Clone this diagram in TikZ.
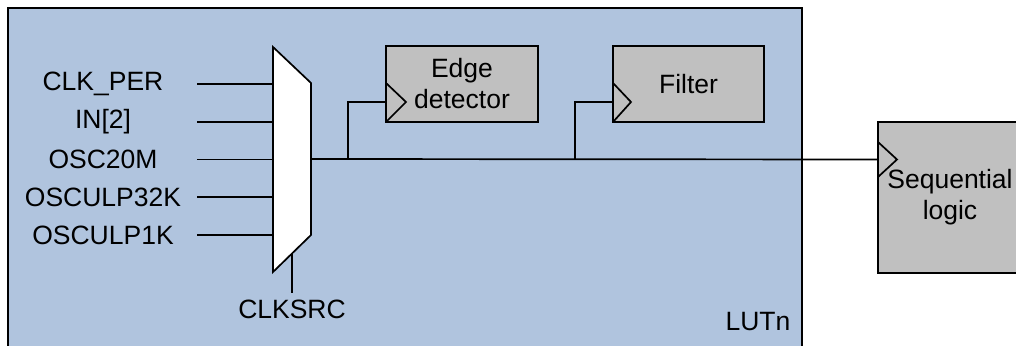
\documentclass[tikz,border=0pt]{standalone}
\usepackage{fontspec}
\setmainfont{Liberation Sans}
\usetikzlibrary{calc}
\definecolor{lutblue}{RGB}{176,196,222}
\definecolor{blockgray}{RGB}{192,192,192}

\begin{document}
\begin{tikzpicture}[
  x=1pt,y=-1pt,
  blk/.style={rectangle,draw,fill=blockgray,line width=1.5pt,inner sep=0pt,align=center},
  wire/.style={black,line width=1.7pt},
  lbl/.style={inner sep=0pt,align=center},
  every node/.style={font=\fontsize{26.5}{31}\selectfont}
]
  \useasboundingbox (0,0) rectangle (1016,345);
  \clip (0,0) rectangle (1016,345);

  % LUTn frame
  \draw[fill=lutblue,line width=1.3pt] (8,8) rectangle (802,360);
  \node[lbl] (lutn) at (758,322) {LUTn};

  % clock multiplexer
  \coordinate (mtl) at (273,47);
  \coordinate (mtr) at (311,83);
  \coordinate (mbr) at (311,235);
  \coordinate (mbl) at (273,272);
  \draw[wire,fill=white] (mtl)--(mtr)--(mbr)--(mbl)--cycle;
  \coordinate (mout) at (311,159);
  \coordinate (msel) at (292,253);

  \foreach \txt [count=\i] in {CLK\_PER,IN[2],OSC20M,OSCULP32K,OSCULP1K}{
    \pgfmathsetmacro{\yy}{84+37.75*(\i-1)}
    \node[lbl] (in\i) at (103,\yy) {\txt};
    \coordinate (s\i) at (197,\yy);
    \coordinate (m\i) at (273,\yy);
    \draw[wire] (s\i)--(m\i);
  }

  \node[lbl] (clksrc) at (292,309) {CLKSRC};
  \draw[wire] (msel)--(292,293);

  % blocks
  \node[blk,minimum width=152,minimum height=76] (edge) at (462,84) {Edge\\detector};
  \node[blk,minimum width=151,minimum height=76] (filt) at (688.5,84) {Filter};
  \node[blk,minimum width=144,minimum height=151] (seq) at (950,197.5) {Sequential\\logic};

  % clock pins
  \draw[wire] (386,83)--(406,102)--(386,122);
  \draw[wire] (613,83)--(631,102)--(613,122);
  \draw[wire] (878,142)--(897,159.5)--(878,177);
  \coordinate (eclk) at (386,102);
  \coordinate (fclk) at (613,102);
  \coordinate (sclk) at (878,159.5);

  % clock net
  \coordinate (b1) at (348,159);
  \coordinate (b2) at (575,159);
  \draw[wire] (mout)--(sclk);
  \draw[wire] (b1)|-(eclk);
  \draw[wire] (b2)|-(fclk);
\end{tikzpicture}
\end{document}
